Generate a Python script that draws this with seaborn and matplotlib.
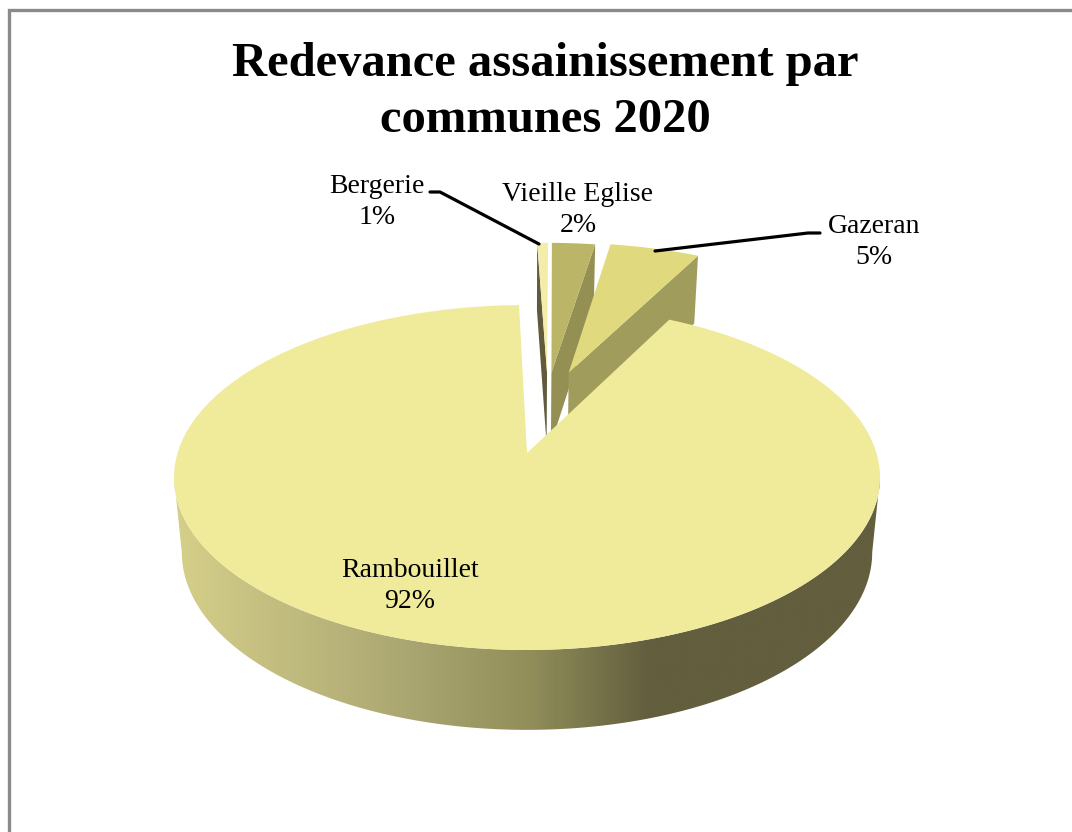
import numpy as np
import seaborn as sns
import matplotlib.pyplot as plt
from matplotlib.patches import Polygon

## data
communes = ['Bergerie', 'Vieille Eglise', 'Gazeran', 'Rambouillet']
parts = [0.6, 2.4, 5.0, 92.0]
part_labels = ['1%', '2%', '5%', '92%']

## colours, same order as communes
top_colors = ['#F3ECAA', '#BBB568', '#E0D97D', '#F0EA9B']
wall_colors = ['#5F5B3C', '#949054', '#A09D5C', None]
wall_edges = ['start', 'end', 'end', None]
side_colors = ['#D6D08A', '#C0BB7E', '#AAA671', '#918E5A', '#625E3E', '#625E3E', '#625E3E']

## layout (picture is in pixels)
cx, cy = 527, 453
rx, ry = 349.4, 169
persp = 0.142
depth = 74
shrink = 0.978
start = -1.5
explode_u = [0.0615, 0.075, 0.128, 0.0]
explode_v = [0.51, 0.51, 0.51, 0.0]

sns.set_theme(style='white')
plt.rcParams['font.family'] = ['Liberation Serif', 'DejaVu Serif']


def project(u, v, down=False):
    w = 1 + persp * v
    x = rx * u / w
    y = cy - ry * v / w
    if down:
        x = x * shrink
        y = y + depth / np.sqrt(w)
    return cx + x, y


def slice_xy(a0, a1, du, dv, down=False):
    # apex first, then the arc, angles clockwise from the top
    t = np.radians(np.linspace(a0, a1, max(int(abs(a1 - a0)) * 2, 8)))
    u = np.r_[du, du + np.sin(t)]
    v = np.r_[dv, dv + np.cos(t)]
    return np.column_stack(project(u, v, down))


fig = plt.figure(figsize=(10.72, 8.32), dpi=100, facecolor='white')
ax = fig.add_axes([0, 0, 1, 1])

# frame of the chart, no right or bottom side visible
ax.plot([8.5, 8.5, 1072], [832, 10, 10], color='#8A8A8A', lw=2.4, solid_joinstyle='miter')

angles = start + np.cumsum(np.r_[0, parts]) / sum(parts) * 360

# round side of the big slice, shaded left to right
edge = np.arccos(-persp)
t = np.linspace(edge, 2 * np.pi - edge, 300)
top_rim = np.column_stack(project(np.sin(t), np.cos(t)))
low_rim = np.column_stack(project(np.sin(t), np.cos(t), down=True))
side = Polygon(np.vstack([top_rim, low_rim[::-1]]), closed=True, fc='none', ec='none')
ax.add_patch(side)
cmap = sns.blend_palette(side_colors, as_cmap=True)
grad = ax.imshow(np.linspace(0, 1, 256)[None, :], cmap=cmap, extent=[170, 890, 740, 470], aspect='auto', zorder=1)
grad.set_clip_path(side)

ax.set_xlim(0, 1072)
ax.set_ylim(832, 0)
ax.axis('off')

# exploded slices, back to front, then the big one on top
for i in [1, 2, 0, 3]:
    a0, a1 = angles[i], angles[i + 1]
    du, dv = explode_u[i], explode_v[i]
    face = slice_xy(a0, a1, du, dv)
    if wall_colors[i] is not None:
        low = slice_xy(a0, a1, du, dv, down=True)
        k = 1 if wall_edges[i] == 'start' else -1
        wall = [face[0], face[k], low[k], low[0]]
        ax.add_patch(Polygon(wall, closed=True, fc=wall_colors[i], ec='none', zorder=2))
    ax.add_patch(Polygon(face, closed=True, fc=top_colors[i], ec='none', zorder=2))

# leader lines
ax.plot([430, 440, 539], [192, 192, 244], color='black', lw=2.3, solid_joinstyle='miter', zorder=3)
ax.plot([655, 808, 820], [251, 233, 233], color='black', lw=2.3, solid_joinstyle='miter', zorder=3)

# labels
label_pos = [(377, 202), (578, 210), (874, 242), (410, 586)]
for name, lab, (lx, ly) in zip(communes, part_labels, label_pos):
    ax.text(lx, ly, f'{name}\n{lab}', ha='center', va='center', fontsize=20,
            linespacing=1.27, color='black', zorder=4)

ax.text(545.5, 92, 'Redevance assainissement par\ncommunes 2020', ha='center', va='center',
        fontsize=35, fontweight='bold', linespacing=1.36, color='black', zorder=4)

fig.savefig('out.png', dpi=100, facecolor='white')
